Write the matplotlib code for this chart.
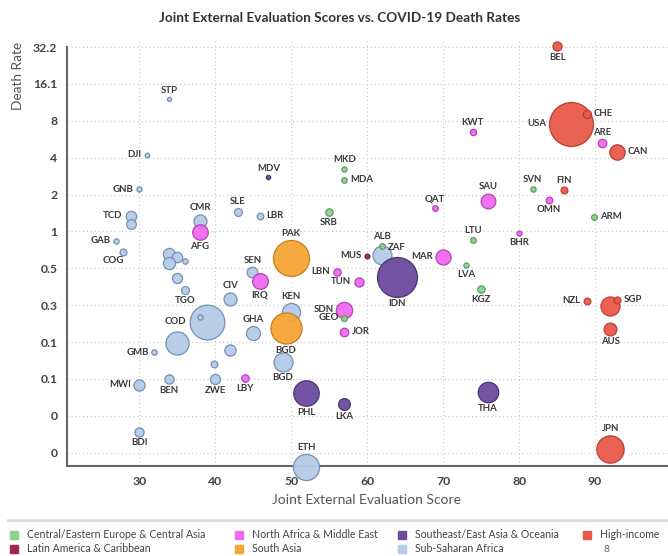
import matplotlib
matplotlib.use('Agg')
import matplotlib.pyplot as plt
from matplotlib.lines import Line2D
from matplotlib.patches import Rectangle
import numpy as np

plt.rcParams['font.family'] = ['Lato', 'DejaVu Sans']

# country codes ('' = bubble without a label)
countries = ['STP', 'DJI', 'GNB', 'SLE', 'LBR', 'TCD', '', 'CMR', 'GAB', 'COG',
             '', '', '', '', 'SEN', '', 'TGO', 'CIV', 'COD', '',
             'GHA', '', 'GMB', '', '', 'KEN', 'BGD', 'MWI', 'BEN', 'ZWE',
             'BDI', 'ETH', 'ZAF',
             'AFG', 'IRQ', 'LBY', 'LBN', 'TUN', 'SDN', 'JOR', 'QAT', 'MAR', 'KWT',
             'SAU', 'OMN', 'BHR', 'ARE',
             'PAK', 'BGD',
             'MDV', 'PHL', 'IDN', 'LKA', 'THA',
             'SRB', 'MKD', 'MDA', 'ALB', 'LVA', 'GEO', 'LTU', 'KGZ', 'SVN', 'ARM',
             'MUS',
             'BEL', 'USA', 'CHE', 'CAN', 'FIN', 'NZL', '', 'SGP', 'AUS', 'JPN']

regions = (['Sub-Saharan Africa'] * 33
           + ['North Africa & Middle East'] * 14
           + ['South Asia'] * 2
           + ['Southeast/East Asia & Oceania'] * 5
           + ['Central/Eastern Europe & Central Asia'] * 10
           + ['Latin America & Caribbean'] * 1
           + ['High-income'] * 10)

jee_score = [33.9, 31.0, 30.0, 43.0, 45.9, 28.9, 28.9, 38.0, 27.0, 27.9,
             33.9, 35.0, 33.9, 36.0, 44.9, 35.0, 36.0, 42.0, 38.9, 38.0,
             45.0, 35.0, 32.0, 42.0, 39.9, 50.0, 48.9, 30.0, 33.9, 40.0,
             30.0, 52.0, 62.0,
             38.0, 45.9, 43.9, 56.0, 58.9, 57.0, 57.0, 68.9, 70.0, 73.9,
             75.9, 83.9, 80.0, 90.9,
             50.0, 49.3,
             47.0, 52.0, 63.9, 57.0, 75.9,
             55.0, 57.0, 57.0, 62.0, 73.0, 57.0, 73.9, 75.0, 81.8, 89.9,
             60.0,
             85.0, 86.8, 88.9, 92.9, 85.9, 88.9, 92.0, 92.9, 92.0, 92.0]

death_rate = [12.1, 4.24, 2.22, 1.46, 1.35, 1.35, 1.16, 1.23, 0.847, 0.689,
              0.659, 0.620, 0.553, 0.582, 0.467, 0.423, 0.336, 0.285, 0.185, 0.202,
              0.150, 0.1245, 0.104, 0.109, 0.0839, 0.222, 0.0867, 0.0563, 0.063, 0.063,
              0.0233, 0.0121, 0.647,
              0.991, 0.40, 0.0643, 0.470, 0.390, 0.230, 0.152, 1.56, 0.623, 6.52,
              1.79, 1.82, 0.978, 5.31,
              0.612, 0.164,
              2.80, 0.0484, 0.428, 0.0394, 0.0494,
              1.45, 3.26, 2.65, 0.767, 0.536, 0.198, 0.858, 0.342, 2.23, 1.32,
              0.635,
              32.8, 7.58, 9.15, 4.48, 2.19, 0.273, 0.248, 0.278, 0.161, 0.0169]

# population, millions (bubble size)
population = [0.22, 1.0, 2.0, 8.0, 5.1, 16.4, 14, 26.5, 2.2, 5.5,
              23, 16, 23, 2.5, 16.7, 15, 8.3, 26.4, 206, 2,
              31.1, 89.6, 2.4, 19, 5, 53.8, 59.7, 19.1, 12.1, 14.9,
              11.9, 115, 59.3,
              38.9, 40.2, 6.9, 6.8, 11.8, 43.8, 10.2, 2.9, 36.9, 4.3,
              34.8, 5.1, 1.7, 9.9,
              220.9, 164.7,
              0.54, 109.6, 273.5, 21.4, 69.8,
              6.9, 2.1, 2.6, 2.9, 1.9, 3.7, 2.8, 6.6, 2.1, 3.0,
              1.3,
              11.6, 331, 8.7, 38, 5.5, 5.1, 60, 5.7, 25.7, 126]

legend_order = ['Central/Eastern Europe & Central Asia', 'Latin America & Caribbean',
                'North Africa & Middle East', 'South Asia',
                'Southeast/East Asia & Oceania', 'Sub-Saharan Africa',
                'High-income']

y_ticks = [32.2 / 2 ** k for k in range(12)]
y_tick_labels = ['32.2', '16.1', '8', '4', '2', '1', '0.5', '0.3', '0.1', '0.1', '0', '0']
x_ticks = [30, 40, 50, 60, 70, 80, 90]

fill = {
    'Central/Eastern Europe & Central Asia': '#8fd08f',
    'Latin America & Caribbean': '#a3284f',
    'North Africa & Middle East': '#f06af0',
    'South Asia': '#f7a535',
    'Southeast/East Asia & Oceania': '#6c4a9e',
    'Sub-Saharan Africa': '#b5cbe8',
    'High-income': '#e8594b',
}
edge = {
    'Central/Eastern Europe & Central Asia': '#5a9a5a',
    'Latin America & Caribbean': '#70102f',
    'North Africa & Middle East': '#b040b0',
    'South Asia': '#c07a20',
    'Southeast/East Asia & Oceania': '#45306e',
    'Sub-Saharan Africa': '#6f8db0',
    'High-income': '#b83a2e',
}

label_side = {
    'DJI': 'left', 'GNB': 'left', 'TCD': 'left', 'GAB': 'left', 'COD': 'left',
    'GMB': 'left', 'MWI': 'left', 'MUS': 'left', 'MAR': 'left', 'LBN': 'left',
    'TUN': 'left', 'SDN': 'left', 'GEO': 'left', 'USA': 'left', 'NZL': 'left',
    'LBR': 'right', 'MDA': 'right', 'JOR': 'right', 'CHE': 'right', 'CAN': 'right',
    'ARM': 'right', 'SGP': 'right',
    'SRB': 'below', 'AFG': 'below', 'TGO': 'below', 'BGD': 'below', 'BEN': 'below',
    'ZWE': 'below', 'LBY': 'below', 'PHL': 'below', 'BDI': 'below', 'IDN': 'below',
    'LVA': 'below', 'KGZ': 'below', 'BEL': 'below', 'OMN': 'below', 'BHR': 'below',
    'AUS': 'below', 'THA': 'below', 'LKA': 'below', 'IRQ': 'below',
    'COG': 'belowleft', 'ZAF': 'upright',
}


def bubble_size(pop):
    return 3.0 * pop + 8


fig = plt.figure(figsize=(6.68, 5.56), dpi=100)
ax = fig.add_axes([67 / 668, 90 / 556, 601 / 668, 426 / 556])

for name, reg, x, y, pop in zip(countries, regions, jee_score, death_rate, population):
    ax.scatter(x, y, s=bubble_size(pop), color=fill[reg], edgecolors=edge[reg],
               linewidths=0.9, alpha=0.95, zorder=3, clip_on=False)

for name, x, y, pop in zip(countries, jee_score, death_rate, population):
    if not name:
        continue
    r = np.sqrt(bubble_size(pop)) / 2
    side = label_side.get(name, 'above')
    if side == 'above':
        off, ha, va = (0, r + 1.5), 'center', 'bottom'
    elif side == 'below':
        off, ha, va = (0, -r - 1.5), 'center', 'top'
    elif side == 'left':
        off, ha, va = (-r - 2, 0), 'right', 'center'
    elif side == 'right':
        off, ha, va = (r + 2, 0), 'left', 'center'
    elif side == 'belowleft':
        off, ha, va = (-7, -r - 1), 'center', 'top'
    else:
        off, ha, va = (r * 0.6, r * 0.3), 'left', 'bottom'
    ax.annotate(name, (x, y), xytext=off, textcoords='offset points',
                ha=ha, va=va, fontsize=6.9, fontweight='bold', color='#3a3a3a',
                zorder=4, annotation_clip=False)

ax.set_yscale('log', base=2)
ylo, yhi = 32.2 * 2 ** -11.36, 32.2 * 2 ** 0.19
ax.set_ylim(ylo, yhi)
ax.set_xlim(20.5, 99.6)
ax.set_yticks(y_ticks)
ax.set_yticklabels(y_tick_labels)
ax.set_xticks(x_ticks)
ax.minorticks_off()
ax.grid(True, linestyle=(0, (1, 2.5)), color='#c8c8c8', linewidth=0.8, zorder=0)
ax.tick_params(length=0, pad=7, labelsize=8.8, labelcolor='#444444')
for lab in ax.get_xticklabels() + ax.get_yticklabels():
    lab.set_fontweight('bold')
for s in ['top', 'right']:
    ax.spines[s].set_visible(False)
for s in ['left', 'bottom']:
    ax.spines[s].set_color('#666666')
    ax.spines[s].set_linewidth(1.5)
ax.spines['left'].set_bounds(ylo, 32.2)

fig.text(340 / 668, 1 - 18 / 556, 'Joint External Evaluation Scores vs. COVID-19 Death Rates',
         ha='center', va='center', fontsize=9.8, fontweight='bold', color='#333333')
fig.text(18 / 668, 1 - 76 / 556, 'Death Rate', rotation=90, ha='center', va='center',
         fontsize=9.8, color='#555555')
fig.text(367 / 668, 1 - 500 / 556, 'Joint External Evaluation Score', ha='center',
         va='center', fontsize=10, color='#555555')

fig.add_artist(Line2D([8 / 668, 1.0], [1 - 520 / 556] * 2, color='#dddddd', lw=2))

# legend, laid out column by column like the original
col_x = [10, 235, 398, 583]
row_y = [535, 549]
for i, reg in enumerate(legend_order):
    cx = col_x[i // 2]
    cy = row_y[i % 2]
    fig.add_artist(Rectangle((cx / 668, 1 - (cy + 4) / 556), 8 / 668, 8 / 556,
                             color=fill[reg], transform=fig.transFigure))
    fig.text((cx + 17) / 668, 1 - cy / 556, reg, ha='left', va='center',
             fontsize=7.6, color='#444444')
fig.text(606 / 668, 1 - 549 / 556, '8', ha='center', va='center', fontsize=7.5,
         color='#666666')

fig.savefig('out.png', dpi=100)
